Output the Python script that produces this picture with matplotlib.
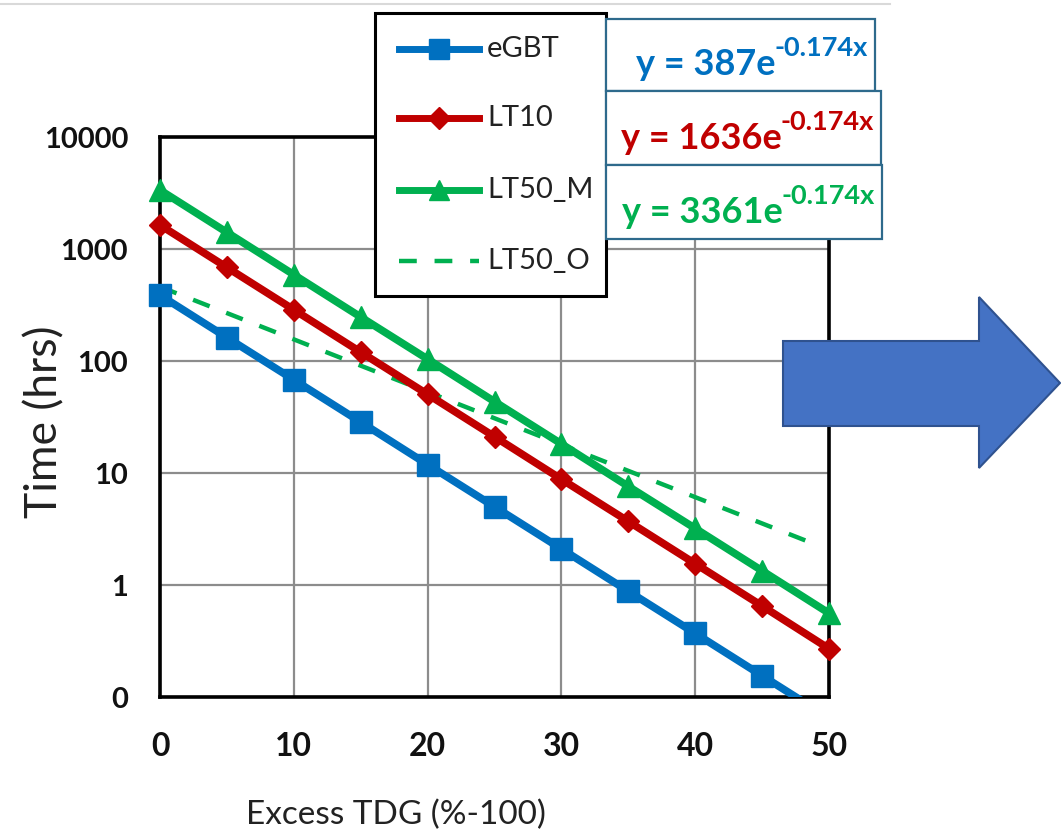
import numpy as np
import matplotlib
matplotlib.use("Agg")
from matplotlib import pyplot as plt
from matplotlib import patches, lines, ticker

plt.rcParams['font.family'] = ['Lato', 'DejaVu Sans']

# data
tdg = [0, 5, 10, 15, 20, 25, 30, 35, 40, 45, 50]
egbt = [387, 162, 68, 28.5, 11.9, 5.0, 2.1, 0.88, 0.37, 0.155, 0.065]
lt10 = [1636, 685, 287, 120, 50.4, 21.1, 8.8, 3.7, 1.55, 0.65, 0.27]
lt50_m = [3361, 1408, 590, 247, 104, 43.4, 18.2, 7.6, 3.2, 1.34, 0.56]
lt50_o_x = [0, 49]
lt50_o = [460, 2.3]

y_ticks = [0.1, 1, 10, 100, 1000, 10000]
y_tick_labels = ['0', '1', '10', '100', '1000', '10000']
x_ticks = [0, 10, 20, 30, 40, 50]

eq_coefs = ['387', '1636', '3361']
eq_exp = '-0.174x'

BLUE = '#0070C0'
RED = '#C00000'
GREEN = '#00B050'

W, H = 1061, 840
fig = plt.figure(figsize=(W / 100, H / 100), dpi=100)


def fx(px):
    return px / W


def fy(py):
    return 1 - py / H


ax = fig.add_axes([fx(160), fy(697), fx(829) - fx(160), fy(137) - fy(697)])
ax.set_yscale('log')
ax.set_xlim(0, 50)
ax.set_ylim(0.1, 10000)
ax.set_xticks(x_ticks)
ax.set_yticks(y_ticks)
ax.set_yticklabels(y_tick_labels)
ax.yaxis.set_minor_locator(ticker.NullLocator())
ax.tick_params(length=0)
ax.tick_params(axis='y', pad=23, labelsize=21)
ax.tick_params(axis='x', pad=25, labelsize=23)
for lab in ax.get_xticklabels() + ax.get_yticklabels():
    lab.set_fontweight('bold')
    lab.set_color('#111111')
ax.grid(True, color='#8c8c8c', linewidth=1.6)
ax.set_axisbelow(True)
for sp in ax.spines.values():
    sp.set_linewidth(2.6)
    sp.set_color('black')

series = [
    (egbt, BLUE, 's', 16),
    (lt10, RED, 'D', 11),
    (lt50_m, GREEN, '^', 16),
]
ax.plot(lt50_o_x, lt50_o, color=GREEN, linewidth=3.2, dashes=(4, 4), zorder=2)
for vals, col, mk, ms in series:
    ax.plot(tdg, vals, color=col, linewidth=5.5, zorder=3)
    xs = [x for x, v in zip(tdg, vals) if v >= 0.1]
    vs = [v for v in vals if v >= 0.1]
    ax.plot(xs, vs, linestyle='none', marker=mk, markersize=ms, color=col,
            clip_on=False, zorder=4)

# axis titles
fig.text(fx(45), fy(422), 'Time (hrs)', rotation=90, fontsize=32,
         ha='center', va='center', color='#222222')
fig.text(fx(396), fy(815), 'Excess TDG (%-100)', fontsize=24,
         ha='center', va='center', color='#222222')

# top rule
fig.add_artist(lines.Line2D([0, fx(890)], [fy(4), fy(4)], color='#d9d9d9',
                            linewidth=1.5))

# legend box
fig.add_artist(patches.Rectangle((fx(375), fy(296)), fx(606) - fx(375),
                                 fy(13) - fy(296), facecolor='white',
                                 edgecolor='black', linewidth=2.2, zorder=5))
leg_items = [
    ('eGBT', BLUE, 's', '-', 15),
    ('LT10', RED, 'D', '-', 11),
    ('LT50_M', GREEN, '^', '-', 15),
    ('LT50_O', GREEN, None, '--', 0),
]
leg_y = [49, 118, 190, 261]
for (name, col, mk, ls, ms), py in zip(leg_items, leg_y):
    if ls == '-':
        fig.add_artist(lines.Line2D([fx(399), fx(479)], [fy(py), fy(py)],
                                    color=col, linewidth=5, zorder=6))
        fig.add_artist(lines.Line2D([fx(439)], [fy(py)], marker=mk,
                                    markersize=ms, color=col, zorder=7))
    else:
        fig.add_artist(lines.Line2D([fx(399), fx(479)], [fy(py), fy(py)],
                                    color=col, linewidth=3.2, dashes=(4, 4),
                                    zorder=6))
    fig.text(fx(487), fy(py), name, fontsize=21, ha='left', va='center',
             color='#222222', zorder=7)

# equation boxes
renderer = fig.canvas.get_renderer()
boxes = [(19, 91, 875), (91, 165, 881), (165, 239, 882)]
for coef, col, (top, bot, right) in zip(eq_coefs, [BLUE, RED, GREEN], boxes):
    fig.add_artist(patches.Rectangle((fx(606), fy(bot)), fx(right) - fx(606),
                                     fy(top) - fy(bot), facecolor='white',
                                     edgecolor='#2E6A8C', linewidth=1.6,
                                     zorder=5))
    base = bot - 16
    sup = fig.text(fx(right - 7), fy(base - 19), eq_exp, fontsize=19.5,
                   fontweight='bold', color=col, ha='right', va='baseline',
                   zorder=6)
    left = sup.get_window_extent(renderer).x0
    fig.text(left / W + 0.001, fy(base), 'y = ' + coef + 'e', fontsize=26,
             fontweight='bold', color=col, ha='right', va='baseline',
             zorder=6)

# block arrow
arrow = [(783, 341), (979, 341), (979, 297), (1060, 383), (979, 468),
         (979, 426), (783, 426)]
fig.add_artist(patches.Polygon([(fx(x), fy(y)) for x, y in arrow],
                               closed=True, facecolor='#4472C4',
                               edgecolor='#2F528F', linewidth=1.5, zorder=6))

fig.savefig('out.png', dpi=100)
